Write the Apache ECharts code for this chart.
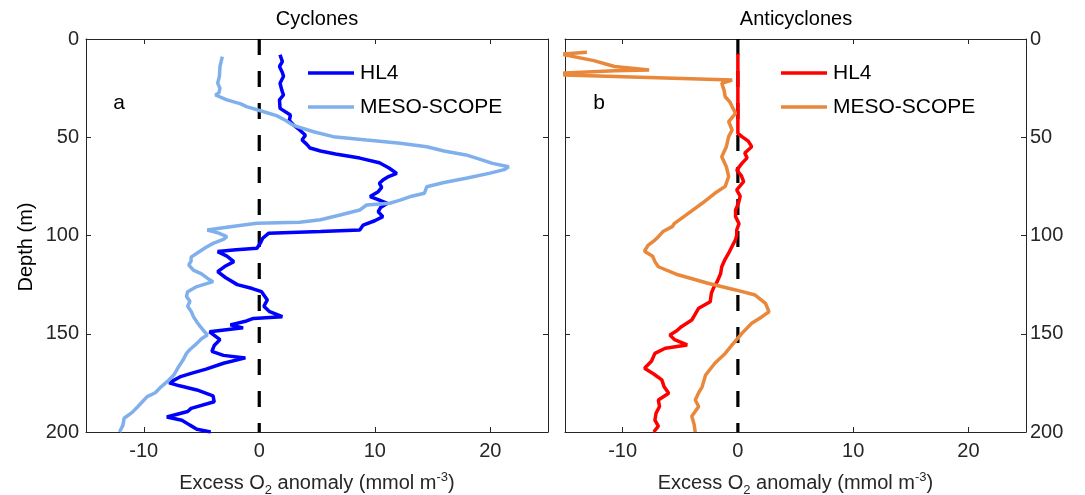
<!DOCTYPE html>
<html>
<head>
<meta charset="utf-8">
<script src="https://cdn.jsdelivr.net/npm/echarts@6/dist/echarts.min.js"></script>
<style>
html,body{margin:0;padding:0;background:#fff;}
#main{width:1085px;height:495px;}
</style>
</head>
<body>
<div id="main"></div>
<script>
// tick labels
var xTicks = [-10, 0, 10, 20];

// a: Cyclones, HL4
var hl4CycDepth = [8, 11.5, 14, 17, 19, 22.5, 26, 28.5, 31, 35.3, 38.7, 41.5, 44, 46.3, 49, 51.4, 53.5, 55.5, 57, 58.5, 60.6, 63, 65.5, 68.4, 70, 71.8, 73.4, 75.5, 77.7, 80.2, 82, 83.6, 85.8, 87.9, 90.4, 92.5, 94.7, 97.2, 98, 98.9, 101.4, 103.8, 106.5, 107.3, 108.2, 110.5, 113.3, 115.8, 118.4, 121.5, 125, 127, 128.6, 132.8, 136, 138.8, 141.3, 142.2, 143.5, 145.5, 147, 149, 153, 156, 159, 161, 162.3, 165, 168, 170.2, 171.8, 175, 176.5, 178.6, 181.6, 184.6, 188, 189.6, 192.4, 194, 196.5, 198.6, 200];
var hl4CycO2 = [1.8, 2.0, 1.75, 2.0, 2.1, 1.8, 1.95, 2.1, 1.75, 1.8, 2.7, 2.6, 3.0, 3.5, 4.0, 3.7, 4.1, 4.4, 5.3, 6.6, 8.7, 10.4, 11.2, 11.9, 11.2, 10.7, 10.4, 10.6, 10.3, 9.6, 10.4, 11.1, 10.5, 10.3, 10.7, 10.0, 9.0, 8.7, 5.3, 0.8, 0.3, 0.1, -0.2, -2.0, -3.6, -2.8, -2.2, -3.0, -3.6, -2.9, -1.9, -0.6, 0.2, 0.7, 0.4, 0.9, 2.0, -0.5, -1.1, -2.5, -1.4, -4.3, -3.4, -3.9, -4.1, -3.1, -1.2, -3.1, -4.6, -5.9, -6.8, -7.8, -6.9, -5.4, -4.0, -3.9, -5.9, -6.2, -8.0, -6.7, -6.0, -5.4, -4.2];

// a: Cyclones, MESO-SCOPE
var mesoCycDepth = [9, 14, 19, 22.5, 25, 27.5, 28.5, 31, 33, 34.4, 36.5, 39, 41.5, 43.8, 45, 47.2, 49.7, 51.4, 53, 54.8, 57, 59, 61, 63.3, 65, 66.5, 68.4, 70.9, 73, 75.2, 78.5, 80, 82, 83.6, 84.5, 87, 89.6, 92, 93.2, 93.8, 95.5, 97.2, 98.8, 100.6, 102, 104, 106, 109, 111, 113, 115, 117.6, 119.5, 121.7, 123.5, 126, 128.6, 131, 133.5, 136, 138.5, 141.3, 144, 146.4, 148.5, 150.6, 152.5, 154.9, 158, 160, 163.4, 167, 171, 174, 177, 180, 182, 184.5, 187, 190, 193, 196.5, 200];
var mesoCycO2 = [-3.2, -3.4, -3.45, -3.6, -3.4, -3.5, -3.8, -2.8, -1.6, -1.1, 0.1, 1.5, 2.3, 2.9, 3.5, 4.7, 6.4, 9.3, 12.2, 14.5, 16.0, 17.9, 19.0, 20.2, 21.6, 21.2, 19.9, 17.9, 16.0, 14.5, 14.3, 13.2, 12.2, 11.3, 9.3, 8.7, 7.0, 5.3, 3.5, -0.2, -2.5, -4.5, -3.5, -2.8, -3.1, -4.0, -4.6, -5.4, -5.9, -5.9, -6.1, -5.7, -5.0, -4.5, -4.0, -5.4, -6.2, -6.3, -6.0, -6.2, -5.9, -5.7, -5.4, -5.1, -4.8, -4.5, -5.0, -5.4, -6.0, -6.3, -6.6, -7.0, -7.4, -7.9, -8.5, -9.0, -9.7, -10.1, -10.5, -11.0, -11.7, -11.8, -12.1];

// b: Anticyclones, HL4
var hl4AntiDepth = [7.5, 20, 30, 40, 48, 49.7, 52, 54.8, 58, 60.5, 63.3, 66.7, 69.5, 72.6, 76.8, 80, 83.6, 87, 90.4, 94, 97.2, 100, 102, 105.5, 109, 112, 115.9, 119.5, 123.5, 126.5, 129.4, 133.7, 137, 140, 143, 146.4, 148.5, 150.6, 153, 155.7, 157.4, 160, 164, 167.6, 170.5, 173.5, 177, 180.3, 183.7, 187, 190.5, 194, 197, 200];
var hl4AntiO2 = [0, 0, 0, 0, 0, 0.35, 0.9, 1.2, 0.6, 0.8, 0.35, -0.1, 0.3, 0.5, -0.1, 0.2, 0.05, -0.2, -0.2, 0.1, -0.1, -0.1, -0.2, -0.5, -0.8, -1.1, -1.4, -1.5, -1.8, -2.1, -2.3, -2.4, -3.4, -3.7, -4.0, -4.9, -5.3, -5.9, -5.5, -4.4, -6.3, -7.2, -7.5, -8.1, -7.3, -6.6, -6.4, -6.0, -6.9, -6.8, -7.1, -7.2, -6.9, -7.3];

// b: Anticyclones, MESO-SCOPE
var mesoAntiDepth = [6.8, 7.7, 11, 14, 15.8, 16.2, 17.3, 17.7, 18.3, 20.9, 22.5, 26, 29.4, 32, 34.4, 37.8, 42, 46.3, 49.7, 54.8, 59.9, 65, 70, 75, 78.5, 83.6, 88.7, 93.8, 95.5, 98, 100.6, 102.3, 105, 108, 110.5, 113.3, 115.9, 120, 124.3, 127.7, 130.3, 134.5, 138.8, 141.3, 144.7, 149.8, 155.7, 160, 165, 171, 177, 180, 183.7, 187, 192, 196, 200];
var mesoAntiO2 = [-13.1, -15.3, -12.5, -10.7, -7.7, -10.7, -15.0, -16, -15, -0.5, -1.4, -1.2, -1.1, -0.7, -0.5, -0.2, -0.8, -0.5, -0.8, -1.0, -1.4, -1.0, -0.8, -1.1, -2.0, -3.1, -4.3, -5.5, -5.7, -6.5, -6.9, -7.2, -7.8, -8.1, -7.4, -7.2, -6.9, -5.2, -2.6, -0.2, 1.5, 2.4, 2.7, 2.1, 1.2, 0.35, -0.5, -1.1, -2.0, -2.8, -3.1, -3.4, -3.7, -3.4, -4.0, -3.8, -3.7];

var FONT = 'Liberation Sans, Arial, Helvetica, sans-serif';
var AXC = '#262626';

function pairs(vals, depths) {//[x, depth]
	return vals.map(function (v, i) { return [v, depths[i]]; });
}

function xAx(grid, pos, showLabel) {
	return {
		type: 'value', gridIndex: grid, position: pos, min: -15, max: 25,
		axisLine: { show: true, onZero: false, lineStyle: { color: AXC, width: 1 } },
		axisTick: { show: true, inside: true, length: 5, customValues: xTicks, lineStyle: { color: AXC } },
		axisLabel: { show: showLabel, customValues: xTicks, fontSize: 20, color: AXC, fontFamily: FONT, margin: 9,
			formatter: function (v) { return v < 0 ? '-' + Math.abs(v) : '' + v; } },
		splitLine: { show: false },
		name: showLabel ? 'Excess O{sub|2} anomaly (mmol m{sup|-3})' : '',
		nameLocation: 'middle', nameGap: 38,
		nameTextStyle: { fontSize: 20, color: AXC, fontFamily: FONT,
			rich: { sub: { fontSize: 13, color: AXC, fontFamily: FONT, padding: [14, 0, 0, 0] },
				sup: { fontSize: 13, color: AXC, fontFamily: FONT, padding: [0, 0, 12, 0] } } }
	};
}

function yAx(grid, pos, showLabel) {
	return {
		type: 'value', gridIndex: grid, position: pos, min: 0, max: 200, interval: 50, inverse: true,
		axisLine: { show: true, onZero: false, lineStyle: { color: AXC, width: 1 } },
		axisTick: { show: true, inside: true, length: 5, lineStyle: { color: AXC } },
		axisLabel: { show: showLabel, fontSize: 20, color: AXC, fontFamily: FONT, margin: pos == 'left' ? 7 : 4 },
		splitLine: { show: false }
	};
}

function lineSeries(name, xi, vals, depths, color) {
	return {
		name: name, type: 'line', xAxisIndex: xi, yAxisIndex: xi,
		data: pairs(vals, depths), showSymbol: false, symbol: 'none', z: 3,
		lineStyle: { color: color, width: 3.5 }, itemStyle: { color: color }, clip: true
	};
}

function zeroLine(xi) {
	return {
		name: 'zero' + xi, type: 'line', xAxisIndex: xi, yAxisIndex: xi, data: [[0, 0], [0, 200]],
		symbol: 'none', z: 2, silent: true,
		lineStyle: { color: '#000', width: 3.2, type: [16, 16] }
	};
}

function legendFor(left, names) {
	return {
		orient: 'vertical', left: left, top: 56, data: names, icon: 'rect',
		itemWidth: 46, itemHeight: 3.5, itemGap: 10, selectedMode: false,
		formatter: function (n) { return n.split(' (')[0]; },
		textStyle: { fontSize: 21, color: '#000', fontFamily: FONT, lineHeight: 24, padding: [0, 0, 0, 1] }
	};
}

function txt(t, x, y, size, rot) {
	return { type: 'text', x: x, y: y, rotation: rot || 0,
		style: { text: t, fill: '#000', font: size + 'px ' + FONT, align: 'center', verticalAlign: 'middle' } };
}

var chart = echarts.init(document.getElementById('main'), null, { renderer: 'canvas' });
chart.setOption({
	animation: false,
	backgroundColor: '#fff',
	grid: [
		{ left: 86, top: 39, width: 462, height: 393, outerBoundsMode: 'none', containLabel: false },
		{ left: 565, top: 39, width: 461, height: 393, outerBoundsMode: 'none', containLabel: false }
	],
	xAxis: [xAx(0, 'bottom', true), xAx(0, 'top', false), xAx(1, 'bottom', true), xAx(1, 'top', false)],
	yAxis: [yAx(0, 'left', true), yAx(0, 'right', false), yAx(1, 'left', false), yAx(1, 'right', true)],
	legend: [
		legendFor(303, ['HL4 (a)', 'MESO-SCOPE (a)']),
		legendFor(776, ['HL4 (b)', 'MESO-SCOPE (b)'])
	],
	graphic: [
		txt('Cyclones', 317, 19, 20),
		txt('Anticyclones', 796, 19, 20),
		txt('a', 119, 103, 21),
		txt('b', 599, 103, 21),
		txt('Depth (m)', 26, 247, 20, Math.PI / 2)
	],
	series: [
		zeroLine(0),
		lineSeries('HL4 (a)', 0, hl4CycO2, hl4CycDepth, '#0000ff'),
		lineSeries('MESO-SCOPE (a)', 0, mesoCycO2, mesoCycDepth, '#80b0ec'),
		zeroLine(2),
		lineSeries('HL4 (b)', 2, hl4AntiO2, hl4AntiDepth, '#ff0000'),
		lineSeries('MESO-SCOPE (b)', 2, mesoAntiO2, mesoAntiDepth, '#e9873a')
	]
});
</script>
</body>
</html>
